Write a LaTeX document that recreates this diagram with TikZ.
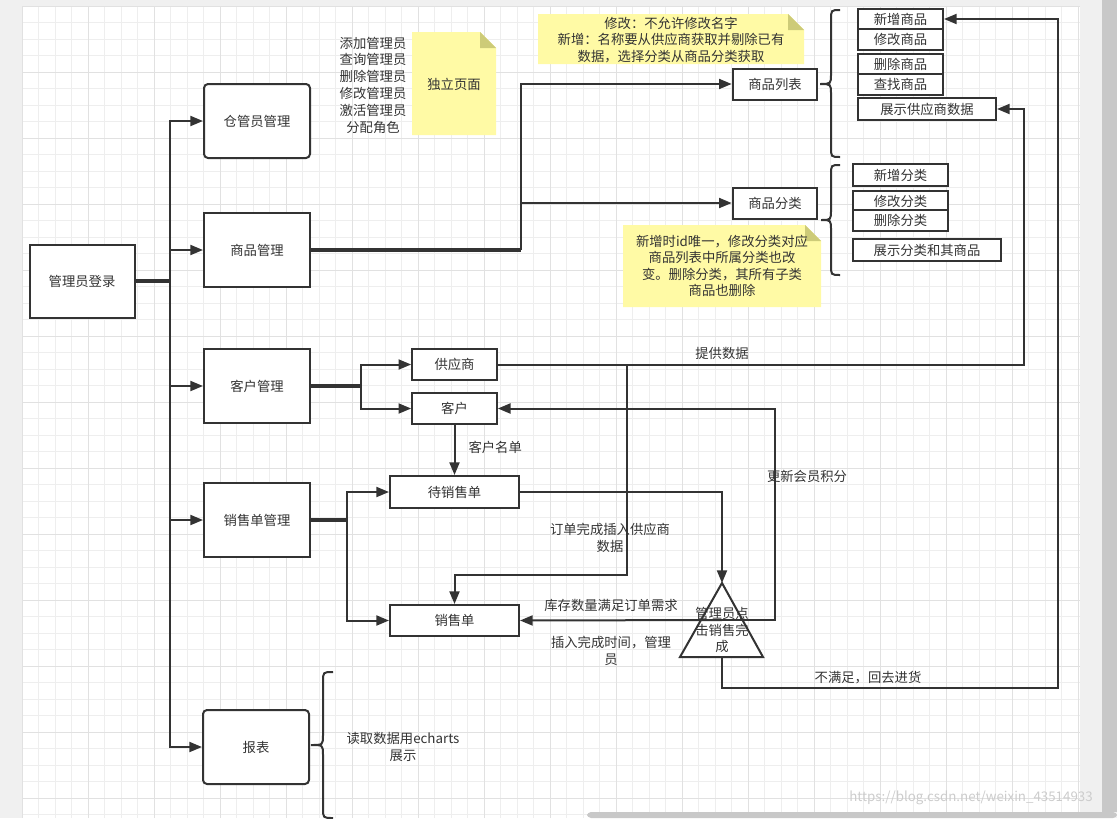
\documentclass[tikz,border=0pt]{standalone}
\usepackage{fontspec}
\setmainfont{Noto Sans CJK SC}
\usetikzlibrary{arrows.meta}

\definecolor{linec}{RGB}{51,51,51}
\definecolor{notey}{RGB}{255,250,165}
\definecolor{notef}{RGB}{205,203,120}
\definecolor{gridmin}{RGB}{238,238,238}
\definecolor{gridmaj}{RGB}{225,225,225}
\definecolor{framec}{RGB}{240,240,240}
\definecolor{scrollc}{RGB}{200,200,200}

\tikzset{every picture/.style={line width=0.75pt}}
\tikzset{
  box/.style={draw=linec, line width=1.5pt, fill=white, text=linec, inner sep=0pt, font=\fontsize{10}{12.4}\selectfont},
  bigbox/.style={box, minimum width=79.5pt, minimum height=55.5pt},
  midbox/.style={box, minimum width=63.5pt, minimum height=23.25pt},
  longbox/.style={box, minimum width=96.75pt, minimum height=24pt},
  gitem/.style={box, minimum width=63.75pt, minimum height=15.4pt},
  citem/.style={box, minimum width=71.25pt, minimum height=16pt},
  lbl/.style={text=linec, inner sep=0.75pt, align=center, font=\fontsize{10}{12.4}\selectfont},
  wire/.style={draw=linec, line width=1.5pt},
  fat/.style={draw=linec, line width=2.6pt},
  conn/.style={wire, -{Triangle[length=9.5pt,width=7.5pt]}},
  note/.style={fill=notey},
  fold/.style={fill=notef},
}

\begin{document}
\begin{tikzpicture}[x=0.75pt,y=0.75pt,yscale=-1,xscale=1]
	\useasboundingbox (0,0) rectangle (1117,818);
	
	%Grid
	\foreach \k in {0,...,64} \draw[gridmin] ({22+16.5*\k},6) -- ({22+16.5*\k},818);
	\foreach \k in {0,...,49} \draw[gridmin] (22,{6+16.5*\k}) -- (1080,{6+16.5*\k});
	\foreach \k in {0,...,16} \draw[gridmaj] ({22+66*\k},6) -- ({22+66*\k},818);
	\foreach \k in {0,...,12} \draw[gridmaj] (22,{6+66*\k}) -- (1080,{6+66*\k});
	%Frame and scroll bars
	\fill[framec] (0,0) rectangle (22,818);
	\fill[framec] (0,0) rectangle (1117,6);
	\fill[framec] (1080,0) rectangle (1117,818);
	\fill[scrollc] (1102,0) rectangle (1117,812);
	\fill[scrollc, rounded corners=3pt] (587,812) rectangle (1117,818);
	
	%Shape: Note [独立页面]
	\path[note] (412,32) -- (480,32) -- (496,48) -- (496,135) -- (412,135) -- cycle ;
	\path[fold] (480,32) -- (496,48) -- (480,48) -- cycle ;
	%Shape: Note [修改/新增]
	\path[note] (538,14) -- (788,14) -- (804,30) -- (804,64) -- (538,64) -- cycle ;
	\path[fold] (788,14) -- (804,30) -- (788,30) -- cycle ;
	%Shape: Note [商品分类]
	\path[note] (623,225) -- (805,225) -- (821,241) -- (821,307) -- (623,307) -- cycle ;
	\path[fold] (805,225) -- (821,241) -- (805,241) -- cycle ;
	
	%Shape: Rectangle
	\node[box, minimum width=78.75pt, minimum height=54.75pt] (login) at (82,281) {管理员登录};
	\node[bigbox, rounded corners=3pt] (keeper) at (257,121) {仓管员管理};
	\node[bigbox] (goods) at (257,250) {商品管理};
	\node[bigbox] (cust) at (257,386) {客户管理};
	\node[bigbox] (sales) at (257,520) {销售单管理};
	\node[bigbox, rounded corners=3pt] (report) at (256,747) {报表};
	
	\node[midbox] (glist) at (775,84) {商品列表};
	\node[midbox] (gcat) at (775,203) {商品分类};
	\node[gitem] (addg) at (900.5,19) {新增商品};
	\node[gitem] (modg) at (900.5,39.5) {修改商品};
	\node[gitem] (delg) at (900.5,64) {删除商品};
	\node[gitem] (findg) at (900.5,84.5) {查找商品};
	\node[box, minimum width=103.5pt, minimum height=16.5pt] (showsup) at (927,109) {展示供应商数据};
	\node[citem] (addc) at (900.5,175) {新增分类};
	\node[citem] (modc) at (900.5,201.5) {修改分类};
	\node[citem] (delc) at (900.5,220.5) {删除分类};
	\node[box, minimum width=111pt, minimum height=16.5pt] (showc) at (927,250) {展示分类和其商品};
	
	\node[midbox] (supp) at (454.5,364.5) {供应商};
	\node[midbox] (client) at (454.5,408.5) {客户};
	\node[longbox] (pend) at (454.5,492) {待销售单};
	\node[longbox, minimum height=23.25pt] (order) at (454.5,620.5) {销售单};
	
	%Shape: Triangle
	\coordinate (jtop) at (722,583);
	\coordinate (jmid) at (722,620);
	\coordinate (jbot) at (722,657);
	\draw[wire, fill=white] (jtop) -- (763,657) -- (680,657) -- cycle ;
	
	%Shape: Braces
	\draw[wire] (840,10) .. controls (831,10) .. (831,20) -- (831,74) .. controls (831,84) .. (820,84) .. controls (831,84) .. (831,94) -- (831,147) .. controls (831,157) .. (840,157) ;
	\draw[wire] (840,165) .. controls (831,165) .. (831,175) -- (831,210) .. controls (831,220) .. (821,220) .. controls (831,220) .. (831,230) -- (831,265) .. controls (831,275) .. (840,275) ;
	\draw[wire] (333,672) .. controls (323,672) .. (323,682) -- (323,735) .. controls (323,745) .. (311,745) .. controls (323,745) .. (323,755) -- (323,808) .. controls (323,818) .. (333,818) ;
	
	% Connection
	\coordinate (trunk) at (170,281);
	\draw[fat] (login.east) -- (trunk) ;
	\draw[conn] (trunk) |- (keeper.west) ;
	\draw[conn] (trunk) |- (goods.west) ;
	\draw[conn] (trunk) |- (cust.west) ;
	\draw[conn] (trunk) |- (sales.west) ;
	\draw[conn] (trunk) |- (report.west) ;
	% Connection
	\coordinate (gsplit) at (521,250);
	\draw[fat] (goods.east) -- (gsplit) ;
	\draw[conn] (gsplit) |- (glist.west) ;
	\draw[conn] (gsplit) |- (gcat.west) ;
	% Connection
	\coordinate (csplit) at (361,386);
	\draw[fat] (cust.east) -- (csplit) ;
	\draw[conn] (csplit) |- (supp.west) ;
	\draw[conn] (csplit) |- (client.west) ;
	% Connection
	\coordinate (ssplit) at (347,520);
	\draw[fat] (sales.east) -- (ssplit) ;
	\draw[conn] (ssplit) |- (pend.west) ;
	\draw[conn] (ssplit) |- (order.west) ;
	% Connection
	\draw[conn] (client.south) -- (pend.north) ;
	\draw[conn] (supp.east) -- (1024,364.5) |- (showsup.east) ;
	\draw[conn] (627,364.5) -- (627,575) -| (order.north) ;
	\draw[conn] (pend.east) -| (jtop) ;
	\draw[conn] (jmid) -- (order.east) ;
	\draw[conn] (jmid) -- (775,620) |- (client.east) ;
	\draw[conn] (jbot) -- (722,688) -| (1058,19) -- (addg.east) ;
	
	% Text Node
	\node[lbl, font=\fontsize{10}{12.6}\selectfont] (adminops) at (373,85) {添加管理员\\查询管理员\\删除管理员\\修改管理员\\激活管理员\\分配角色};
	% Text Node
	\node[lbl] (page) at (454,84) {独立页面};
	% Text Node
	\node[lbl] (listnote) at (671,40) {修改：不允许修改名字\\新增：名称要从供应商获取并剔除已有\\数据，选择分类从商品分类获取};
	% Text Node
	\node[lbl] (catnote) at (722,266) {新增时id唯一，修改分类对应\\商品列表中所属分类也改\\变。删除分类，其所有子类\\商品也删除};
	% Text Node
	\node[lbl] (supply) at (722,353) {提供数据};
	% Text Node
	\node[lbl, anchor=west] (names) at (467,447) {客户名单};
	% Text Node
	\node[lbl] (insert) at (610,538) {订单完成插入供应商\\数据};
	% Text Node
	\node[lbl] (stock) at (611,605) {库存数量满足订单需求};
	% Text Node
	\node[lbl] (finish) at (611,651) {插入完成时间，管理\\员};
	% Text Node
	\node[lbl] (points) at (807,476) {更新会员积分};
	% Text Node
	\node[lbl] (judge) at (722,630) {管理员点\\击销售完\\成};
	% Text Node
	\node[lbl] (restock) at (868,678) {不满足，回去进货};
	% Text Node
	\node[lbl] (charts) at (403,747) {读取数据用echarts\\展示};
	% Text Node
	\node[text=gray!40, inner sep=0pt, font=\fontsize{10}{12}\selectfont] (mark) at (971,798) {https://blog.csdn.net/weixin\_43514933};
	
\end{tikzpicture}
\end{document}
